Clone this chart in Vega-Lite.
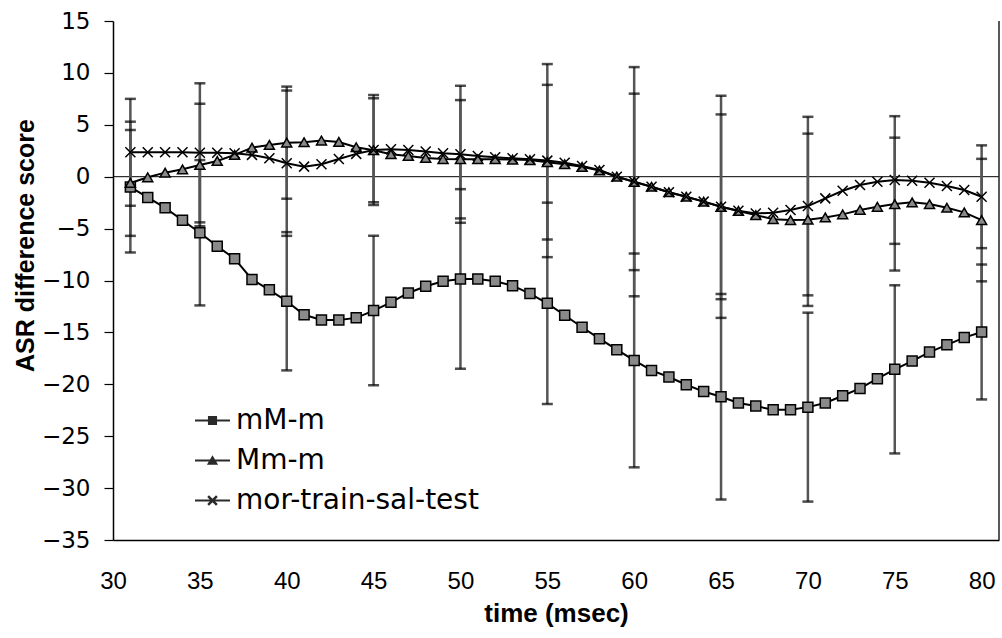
{
  "$schema": "https://vega.github.io/schema/vega-lite/v6.json",
  "width": 886,
  "height": 519,
  "autosize": {"type": "none"},
  "padding": {"left": 113, "top": 21, "right": 3, "bottom": 98},
  "background": "white",
  "config": {"font": "Liberation Sans", "view": {"stroke": null}},
  "datasets": {
    "pts": [
      {"t":31,"s":"mM-m","v":-1.0},{"t":32,"s":"mM-m","v":-2.0},{"t":33,"s":"mM-m","v":-3.0},{"t":34,"s":"mM-m","v":-4.2},{"t":35,"s":"mM-m","v":-5.4},
      {"t":36,"s":"mM-m","v":-6.7},{"t":37,"s":"mM-m","v":-7.9},{"t":38,"s":"mM-m","v":-9.9},{"t":39,"s":"mM-m","v":-10.9},{"t":40,"s":"mM-m","v":-12.0},
      {"t":41,"s":"mM-m","v":-13.3},{"t":42,"s":"mM-m","v":-13.8},{"t":43,"s":"mM-m","v":-13.8},{"t":44,"s":"mM-m","v":-13.6},{"t":45,"s":"mM-m","v":-12.9},
      {"t":46,"s":"mM-m","v":-12.1},{"t":47,"s":"mM-m","v":-11.2},{"t":48,"s":"mM-m","v":-10.55},{"t":49,"s":"mM-m","v":-10.07},{"t":50,"s":"mM-m","v":-9.85},
      {"t":51,"s":"mM-m","v":-9.85},{"t":52,"s":"mM-m","v":-10.07},{"t":53,"s":"mM-m","v":-10.5},{"t":54,"s":"mM-m","v":-11.26},{"t":55,"s":"mM-m","v":-12.2},
      {"t":56,"s":"mM-m","v":-13.35},{"t":57,"s":"mM-m","v":-14.5},{"t":58,"s":"mM-m","v":-15.6},{"t":59,"s":"mM-m","v":-16.66},{"t":60,"s":"mM-m","v":-17.7},
      {"t":61,"s":"mM-m","v":-18.66},{"t":62,"s":"mM-m","v":-19.3},{"t":63,"s":"mM-m","v":-20.04},{"t":64,"s":"mM-m","v":-20.7},{"t":65,"s":"mM-m","v":-21.2},
      {"t":66,"s":"mM-m","v":-21.8},{"t":67,"s":"mM-m","v":-22.1},{"t":68,"s":"mM-m","v":-22.45},{"t":69,"s":"mM-m","v":-22.45},{"t":70,"s":"mM-m","v":-22.2},
      {"t":71,"s":"mM-m","v":-21.8},{"t":72,"s":"mM-m","v":-21.1},{"t":73,"s":"mM-m","v":-20.4},{"t":74,"s":"mM-m","v":-19.46},{"t":75,"s":"mM-m","v":-18.56},
      {"t":76,"s":"mM-m","v":-17.76},{"t":77,"s":"mM-m","v":-16.9},{"t":78,"s":"mM-m","v":-16.2},{"t":79,"s":"mM-m","v":-15.5},{"t":80,"s":"mM-m","v":-14.96},

      {"t":31,"s":"Mm-m","v":-0.6},{"t":32,"s":"Mm-m","v":-0.06},{"t":33,"s":"Mm-m","v":0.39},{"t":34,"s":"Mm-m","v":0.71},{"t":35,"s":"Mm-m","v":1.13},
      {"t":36,"s":"Mm-m","v":1.52},{"t":37,"s":"Mm-m","v":2.1},{"t":38,"s":"Mm-m","v":2.8},{"t":39,"s":"Mm-m","v":3.06},{"t":40,"s":"Mm-m","v":3.28},
      {"t":41,"s":"Mm-m","v":3.32},{"t":42,"s":"Mm-m","v":3.48},{"t":43,"s":"Mm-m","v":3.35},{"t":44,"s":"Mm-m","v":2.84},{"t":45,"s":"Mm-m","v":2.55},
      {"t":46,"s":"Mm-m","v":2.16},{"t":47,"s":"Mm-m","v":2.0},{"t":48,"s":"Mm-m","v":1.8},{"t":49,"s":"Mm-m","v":1.7},{"t":50,"s":"Mm-m","v":1.68},
      {"t":51,"s":"Mm-m","v":1.68},{"t":52,"s":"Mm-m","v":1.68},{"t":53,"s":"Mm-m","v":1.65},{"t":54,"s":"Mm-m","v":1.6},{"t":55,"s":"Mm-m","v":1.4},
      {"t":56,"s":"Mm-m","v":1.2},{"t":57,"s":"Mm-m","v":0.95},{"t":58,"s":"Mm-m","v":0.6},{"t":59,"s":"Mm-m","v":0.0},{"t":60,"s":"Mm-m","v":-0.5},
      {"t":61,"s":"Mm-m","v":-0.97},{"t":62,"s":"Mm-m","v":-1.5},{"t":63,"s":"Mm-m","v":-1.93},{"t":64,"s":"Mm-m","v":-2.4},{"t":65,"s":"Mm-m","v":-2.9},
      {"t":66,"s":"Mm-m","v":-3.3},{"t":67,"s":"Mm-m","v":-3.7},{"t":68,"s":"Mm-m","v":-4.1},{"t":69,"s":"Mm-m","v":-4.18},{"t":70,"s":"Mm-m","v":-4.15},
      {"t":71,"s":"Mm-m","v":-3.92},{"t":72,"s":"Mm-m","v":-3.63},{"t":73,"s":"Mm-m","v":-3.2},{"t":74,"s":"Mm-m","v":-2.9},{"t":75,"s":"Mm-m","v":-2.64},
      {"t":76,"s":"Mm-m","v":-2.47},{"t":77,"s":"Mm-m","v":-2.64},{"t":78,"s":"Mm-m","v":-2.99},{"t":79,"s":"Mm-m","v":-3.44},{"t":80,"s":"Mm-m","v":-4.18},

      {"t":31,"s":"mor-train-sal-test","v":2.35},{"t":32,"s":"mor-train-sal-test","v":2.35},{"t":33,"s":"mor-train-sal-test","v":2.35},{"t":34,"s":"mor-train-sal-test","v":2.35},{"t":35,"s":"mor-train-sal-test","v":2.3},
      {"t":36,"s":"mor-train-sal-test","v":2.3},{"t":37,"s":"mor-train-sal-test","v":2.26},{"t":38,"s":"mor-train-sal-test","v":2.1},{"t":39,"s":"mor-train-sal-test","v":1.77},{"t":40,"s":"mor-train-sal-test","v":1.3},
      {"t":41,"s":"mor-train-sal-test","v":0.97},{"t":42,"s":"mor-train-sal-test","v":1.2},{"t":43,"s":"mor-train-sal-test","v":1.7},{"t":44,"s":"mor-train-sal-test","v":2.2},{"t":45,"s":"mor-train-sal-test","v":2.58},
      {"t":46,"s":"mor-train-sal-test","v":2.64},{"t":47,"s":"mor-train-sal-test","v":2.58},{"t":48,"s":"mor-train-sal-test","v":2.42},{"t":49,"s":"mor-train-sal-test","v":2.26},{"t":50,"s":"mor-train-sal-test","v":2.16},
      {"t":51,"s":"mor-train-sal-test","v":2.0},{"t":52,"s":"mor-train-sal-test","v":1.87},{"t":53,"s":"mor-train-sal-test","v":1.77},{"t":54,"s":"mor-train-sal-test","v":1.68},{"t":55,"s":"mor-train-sal-test","v":1.55},
      {"t":56,"s":"mor-train-sal-test","v":1.35},{"t":57,"s":"mor-train-sal-test","v":1.03},{"t":58,"s":"mor-train-sal-test","v":0.65},{"t":59,"s":"mor-train-sal-test","v":0.0},{"t":60,"s":"mor-train-sal-test","v":-0.48},
      {"t":61,"s":"mor-train-sal-test","v":-0.97},{"t":62,"s":"mor-train-sal-test","v":-1.5},{"t":63,"s":"mor-train-sal-test","v":-1.93},{"t":64,"s":"mor-train-sal-test","v":-2.4},{"t":65,"s":"mor-train-sal-test","v":-2.9},
      {"t":66,"s":"mor-train-sal-test","v":-3.28},{"t":67,"s":"mor-train-sal-test","v":-3.54},{"t":68,"s":"mor-train-sal-test","v":-3.47},{"t":69,"s":"mor-train-sal-test","v":-3.2},{"t":70,"s":"mor-train-sal-test","v":-2.83},
      {"t":71,"s":"mor-train-sal-test","v":-2.09},{"t":72,"s":"mor-train-sal-test","v":-1.35},{"t":73,"s":"mor-train-sal-test","v":-0.8},{"t":74,"s":"mor-train-sal-test","v":-0.48},{"t":75,"s":"mor-train-sal-test","v":-0.32},
      {"t":76,"s":"mor-train-sal-test","v":-0.39},{"t":77,"s":"mor-train-sal-test","v":-0.58},{"t":78,"s":"mor-train-sal-test","v":-0.9},{"t":79,"s":"mor-train-sal-test","v":-1.28},{"t":80,"s":"mor-train-sal-test","v":-1.93}
    ],
    "err": [
      {"t":31,"s":"mM-m","lo":-7.3,"hi":5.3},{"t":35,"s":"mM-m","lo":-12.4,"hi":1.6},{"t":40,"s":"mM-m","lo":-18.66,"hi":-5.34},{"t":45,"s":"mM-m","lo":-20.1,"hi":-5.7},
      {"t":50,"s":"mM-m","lo":-18.5,"hi":-1.2},{"t":55,"s":"mM-m","lo":-21.9,"hi":-2.5},{"t":60,"s":"mM-m","lo":-28.0,"hi":-7.4},{"t":65,"s":"mM-m","lo":-31.1,"hi":-11.3},
      {"t":70,"s":"mM-m","lo":-31.3,"hi":-13.1},{"t":75,"s":"mM-m","lo":-26.66,"hi":-10.46},{"t":80,"s":"mM-m","lo":-21.46,"hi":-8.46},
      {"t":31,"s":"Mm-m","lo":-5.7,"hi":4.5},{"t":35,"s":"Mm-m","lo":-4.77,"hi":7.03},{"t":40,"s":"Mm-m","lo":-2.12,"hi":8.68},{"t":45,"s":"Mm-m","lo":-2.45,"hi":7.55},
      {"t":50,"s":"Mm-m","lo":-4.02,"hi":7.38},{"t":55,"s":"Mm-m","lo":-6.05,"hi":8.85},{"t":60,"s":"Mm-m","lo":-9.0,"hi":8.0},{"t":65,"s":"Mm-m","lo":-11.8,"hi":6.0},
      {"t":70,"s":"Mm-m","lo":-12.45,"hi":4.15},{"t":75,"s":"Mm-m","lo":-9.04,"hi":3.76},{"t":80,"s":"Mm-m","lo":-10.08,"hi":1.72},
      {"t":31,"s":"mor-train-sal-test","lo":-2.8,"hi":7.5},{"t":35,"s":"mor-train-sal-test","lo":-4.4,"hi":9.0},{"t":40,"s":"mor-train-sal-test","lo":-5.7,"hi":8.3},{"t":45,"s":"mor-train-sal-test","lo":-2.72,"hi":7.88},
      {"t":50,"s":"mor-train-sal-test","lo":-4.44,"hi":8.76},{"t":55,"s":"mor-train-sal-test","lo":-7.75,"hi":10.85},{"t":60,"s":"mor-train-sal-test","lo":-11.52,"hi":10.56},{"t":65,"s":"mor-train-sal-test","lo":-13.6,"hi":7.8},
      {"t":70,"s":"mor-train-sal-test","lo":-11.43,"hi":5.77},{"t":75,"s":"mor-train-sal-test","lo":-6.47,"hi":5.83},{"t":80,"s":"mor-train-sal-test","lo":-6.88,"hi":3.02}
    ]
  },
  "layer": [
    {
      "data": {"name": "pts"},
      "mark": {"type": "line", "color": "black", "strokeWidth": 2},
      "encoding": {
        "x": {"field": "t", "type": "quantitative", "title": "time (msec)", "scale": {"domain": [30, 81], "nice": false, "zero": false},
          "axis": {"title": "time (msec)", "values": [30,35,40,45,50,55,60,65,70,75,80], "ticks": false, "grid": false,
            "labelFontSize": 24, "labelPadding": 29, "labelColor": "black", "labelFlush": false,
            "domainColor": "black", "domainWidth": 1.5,
            "titleFontSize": 26, "titleFontWeight": "bold", "titleColor": "black", "titlePadding": 7}},
        "y": {"field": "v", "type": "quantitative", "title": "ASR difference score", "scale": {"domain": [-35, 15], "nice": false, "zero": false},
          "axis": {"title": "ASR difference score", "values": [-35,-30,-25,-20,-15,-10,-5,0,5,10,15], "tickSize": 9, "tickColor": "black", "tickWidth": 1.2, "grid": false,
            "labelFont": "DejaVu Sans", "labelFontSize": 23, "labelPadding": 14, "labelColor": "black",
            "domainColor": "black", "domainWidth": 1.5,
            "titleFontSize": 25, "titleFontWeight": "bold", "titleColor": "black",
            "titleX": -80, "titleY": 224, "titleBaseline": "alphabetic"}},
        "detail": {"field": "s"}
      }
    },
    {
      "data": {"values": [{"z": 0}]},
      "mark": {"type": "rule", "color": "black", "strokeWidth": 1},
      "encoding": {"y": {"field": "z", "type": "quantitative", "title": "ASR difference score"}}
    },
    {
      "data": {"values": [{"r": 81}]},
      "mark": {"type": "rule", "color": "#222", "strokeWidth": 1.5},
      "encoding": {"x": {"field": "r", "type": "quantitative", "title": "time (msec)"}}
    },
    {
      "data": {"name": "err"},
      "mark": {"type": "rule", "color": "#555", "strokeWidth": 2.5},
      "encoding": {
        "x": {"field": "t", "type": "quantitative", "title": "time (msec)"},
        "y": {"field": "lo", "type": "quantitative", "title": "ASR difference score"},
        "y2": {"field": "hi"}
      }
    },
    {
      "data": {"name": "err"},
      "transform": [{"fold": ["lo", "hi"], "as": ["k", "val"]}],
      "mark": {"type": "tick", "orient": "horizontal", "size": 11, "thickness": 2.5, "color": "black"},
      "encoding": {
        "x": {"field": "t", "type": "quantitative", "title": "time (msec)"},
        "y": {"field": "val", "type": "quantitative", "title": "ASR difference score"}
      }
    },
    {
      "data": {"name": "pts"},
      "mark": {"type": "point", "filled": true, "fill": "#8a8a8a", "stroke": "black", "strokeWidth": 1.5, "size": 100, "opacity": 1},
      "encoding": {
        "x": {"field": "t", "type": "quantitative", "title": "time (msec)"},
        "y": {"field": "v", "type": "quantitative", "title": "ASR difference score"},
        "shape": {"field": "s", "type": "nominal", "legend": null,
          "scale": {"domain": ["mM-m", "Mm-m", "mor-train-sal-test"], "range": ["square", "triangle-up", "M-1,-1L1,1M-1,1L1,-1"]}}
      }
    },
    {
      "data": {"name": "pts"},
      "transform": [{"filter": "datum.t > 9999"}],
      "mark": {"type": "point", "filled": true, "fill": "#2a2a2a", "size": 1225, "opacity": 1},
      "encoding": {
        "shape": {"field": "s", "type": "nominal",
          "scale": {"domain": ["mM-m", "Mm-m", "mor-train-sal-test"],
            "range": ["M-1,-0.06L1,-0.06L1,0.06L-1,0.06ZM-0.26,-0.26L0.26,-0.26L0.26,0.26L-0.26,0.26Z",
                      "M-1,-0.06L1,-0.06L1,0.06L-1,0.06ZM0,-0.3L0.32,0.24L-0.32,0.24Z",
                      "M-1,-0.06L1,-0.06L1,0.06L-1,0.06ZM-0.2,-0.3L0.3,0.2L0.2,0.3L-0.3,-0.2ZM-0.3,0.2L0.2,-0.3L0.3,-0.2L-0.2,0.3Z"]},
          "legend": {"title": null, "orient": "none", "legendX": 82, "legendY": 382, "padding": 0,
            "labelFont": "DejaVu Sans", "labelFontSize": 28, "labelColor": "black", "labelOffset": 6, "rowPadding": 8, "labelLimit": 0,
            "symbolSize": 1225, "symbolFillColor": "#2a2a2a", "symbolStrokeWidth": 0}}
      }
    }
  ],
  "resolve": {"scale": {"shape": "independent"}}
}
